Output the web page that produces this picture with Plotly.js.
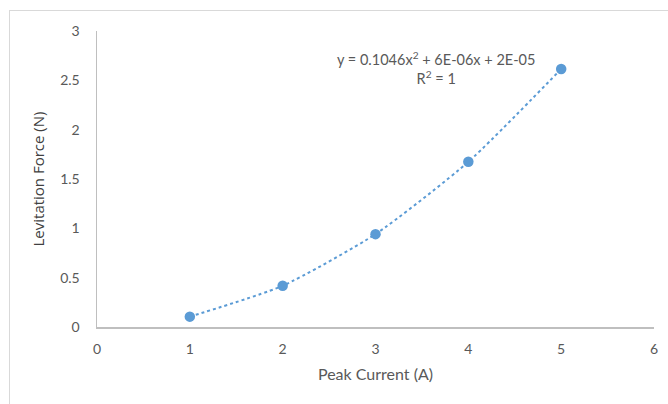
<!DOCTYPE html>
<html><head><meta charset="utf-8">
<script src="https://cdn.plot.ly/plotly-3.0.1.min.js"></script>
<style>
body{margin:0;background:#fff;}
#wrap{position:relative;width:668px;height:404px;overflow:hidden;}
#frame{position:absolute;left:9px;top:10px;width:700px;height:420px;border:1px solid #D9D9D9;pointer-events:none;}
</style>
</head><body>
<div id="wrap"><div id="chart" style="width:668px;height:404px;"></div><div id="frame"></div></div>
<script>
var peakCurrent = [1, 2, 3, 4, 5];
var levitationForce = [0.105, 0.418, 0.941, 1.674, 2.615];
var xTicks = [0, 1, 2, 3, 4, 5, 6];
var yTicks = [0, 0.5, 1, 1.5, 2, 2.5, 3];
var eqText = 'y = 0.1046x<sup>2</sup> + 6E-06x + 2E-05<br>R<sup>2</sup> = 1';

var blue = '#5B9BD5';
var fontFam = 'Lato, "Open Sans", sans-serif';
var data = [
  {x: peakCurrent, y: levitationForce, mode: 'lines', type: 'scatter',
   line: {color: blue, width: 2, dash: 'dot', shape: 'spline', smoothing: 0.6}, hoverinfo: 'skip'},
  {x: peakCurrent, y: levitationForce, mode: 'markers', type: 'scatter',
   marker: {color: blue, size: 10.5}}
];
var layout = {
  width: 668, height: 404,
  margin: {l: 97, r: 14, t: 31, b: 77},
  showlegend: false,
  paper_bgcolor: '#fff', plot_bgcolor: '#fff',
  font: {family: fontFam, color: '#595959', size: 14},
  xaxis: {range: [0, 6], tickvals: xTicks, showgrid: false, zeroline: false,
    showline: true, linecolor: '#BFBFBF', linewidth: 1.5, ticks: '', ticklabelstandoff: 9,
    tickfont: {size: 14, color: '#595959'},
    title: {text: 'Peak Current (A)', font: {size: 16, color: '#595959'}, standoff: 12}},
  yaxis: {range: [0, 3], tickvals: yTicks, showgrid: false, zeroline: false,
    showline: true, linecolor: '#BFBFBF', linewidth: 1.5, ticks: '', ticklabelstandoff: 13,
    tickfont: {size: 14, color: '#595959'},
    title: {text: 'Levitation Force (N)', font: {size: 15, color: '#404040', family: '"Open Sans", sans-serif'}, standoff: 12}},
  annotations: [{xref: 'x', yref: 'y', x: 3.65, y: 2.62, text: eqText, showarrow: false,
    align: 'center', font: {size: 14.5, color: '#595959', family: fontFam}}]
};
Plotly.newPlot('chart', data, layout, {displayModeBar: false, staticPlot: true});
</script>
</body></html>
